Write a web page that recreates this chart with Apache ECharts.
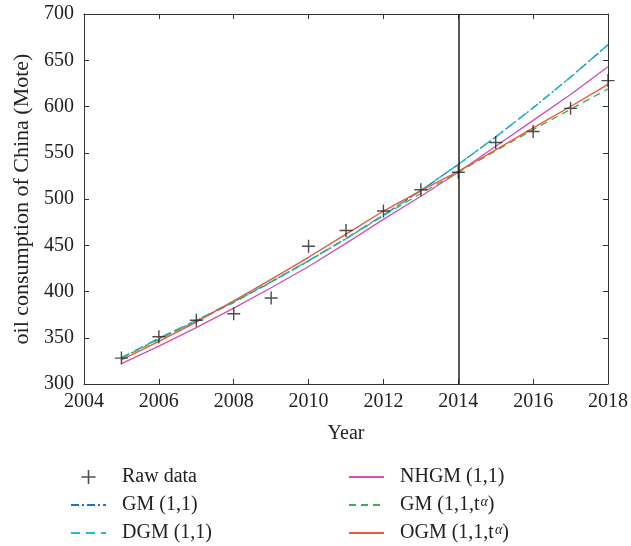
<!DOCTYPE html>
<html>
<head>
<meta charset="utf-8">
<script src="https://cdn.jsdelivr.net/npm/echarts@6/dist/echarts.min.js"></script>
<style>html,body{margin:0;padding:0;background:#fff;}#c{width:631px;height:546px;}</style>
</head>
<body>
<div id="c"></div>
<script>
var years = [2005,2006,2007,2008,2009,2010,2011,2012,2013,2014,2015,2016,2017,2018];
var rawData = [328,351,369,376,393,449,466,487,510,529,561,573,598,628];
var gm11 = [328,349,368.4,388.8,410.3,433.1,457.1,482.4,509.1,537.3,567.1,598.5,631.7,666.7];
var dgm11 = [328.5,349.6,368.9,389.2,410.7,433.4,457.3,482.6,509.3,537.4,567.2,598.6,631.8,666.8];
var nhgm11 = [322,341,361,382,404,427,452,478,503,529,557,585,613,643];
var gm11ta = [328,348,368,388,410,433,457,482,506,529,552,575,597,619];
var ogm11ta = [326,346,367,390,413,437,462,487,509,530,553,577,600,624];
var xTicks = [2004,2006,2008,2010,2012,2014,2016,2018];
var yTicks = [300,350,400,450,500,550,600,650,700];
var splitYear = 2014;

var FONT = 'Liberation Serif';
var FS = 20;
function pairs(v){ return years.map(function(y,i){ return [y, v[i]]; }); }
var names = {
  'GM (1,1,tα)': '{g|}{n|GM (1,1,t}{s|α}{n|)}',
  'OGM (1,1,tα)': '{g|}{n|OGM (1,1,t}{s|α}{n|)}'
};
var rich = {
  g: {width: 11, lineHeight: 20},
  n: {fontFamily: FONT, fontSize: FS, color: '#222', lineHeight: 20, verticalAlign: 'bottom'},
  s: {fontFamily: FONT, fontSize: 14, fontStyle: 'italic', color: '#222', lineHeight: 20, verticalAlign: 'top', padding: [0,0,6,1]}
};
function fmt(name){ return names[name] || ('{g|}{n|' + name + '}'); }
function legendItem(name, isLine){
  return isLine ? {name: name, itemStyle: {opacity: 0}} : {name: name};
}

var chart = echarts.init(document.getElementById('c'), null, {renderer: 'canvas'});
var axisLine = {show: true, lineStyle: {color: '#333', width: 1}};
chart.setOption({
  animation: false,
  backgroundColor: '#fff',
  grid: {left: 84, right: 19, top: 14, bottom: 162, containLabel: false},
  xAxis: [{
    type: 'value', min: 2004, max: 2018, interval: 2,
    axisLine: axisLine, axisTick: {inside: true, length: 5, lineStyle: {color: '#333'}},
    axisLabel: {fontFamily: FONT, fontSize: FS, color: '#222', margin: 8, formatter: function(v){ return xTicks.indexOf(v) >= 0 ? String(v) : ''; }},
    splitLine: {show: false},
    name: 'Year', nameLocation: 'middle', nameGap: 40,
    nameTextStyle: {fontFamily: FONT, fontSize: FS, color: '#222'}
  },{
    type: 'value', min: 2004, max: 2018, interval: 2, position: 'top',
    axisLine: axisLine, axisTick: {inside: true, length: 5, lineStyle: {color: '#333'}},
    axisLabel: {show: false}, splitLine: {show: false}
  }],
  yAxis: [{
    type: 'value', min: 300, max: 700, interval: 50,
    axisLine: axisLine, axisTick: {show: true, inside: true, length: 5, lineStyle: {color: '#333'}},
    axisLabel: {fontFamily: FONT, fontSize: FS, color: '#222', margin: 10, formatter: function(v){ return yTicks.indexOf(v) >= 0 ? String(v) : ''; }},
    splitLine: {show: false},
    name: 'oil consumption of China (Mote)', nameLocation: 'middle', nameGap: 48,
    nameTextStyle: {fontFamily: FONT, fontSize: 22, color: '#222'}
  },{
    type: 'value', min: 300, max: 700, interval: 50, position: 'right',
    axisLine: axisLine, axisTick: {show: true, inside: true, length: 5, lineStyle: {color: '#333'}},
    axisLabel: {show: false}, splitLine: {show: false}
  }],
  legend: [{
    data: [legendItem('Raw data', false), legendItem('GM (1,1)', true), legendItem('DGM (1,1)', true)],
    orient: 'vertical', left: 70, top: 467, itemGap: 8, itemWidth: 35, itemHeight: 14, padding: 0,
    formatter: fmt, textStyle: {rich: rich}, selectedMode: false
  },{
    data: [legendItem('NHGM (1,1)', true), legendItem('GM (1,1,tα)', true), legendItem('OGM (1,1,tα)', true)],
    orient: 'vertical', left: 348, top: 467, itemGap: 8, itemWidth: 35, itemHeight: 14, padding: 0,
    formatter: fmt, textStyle: {rich: rich}, selectedMode: false
  }],
  series: [
    {name: 'Raw data', type: 'scatter', data: pairs(rawData), symbol: 'path://M4.45,0h1.1v10h-1.1z M0,4.45h10v1.1h-10z', symbolSize: 13,
      itemStyle: {color: '#222'}, z: 10,
      markLine: {silent: true, symbol: 'none', label: {show: false}, lineStyle: {color: '#222', width: 1.5, type: 'solid'}, data: [{xAxis: splitYear}]}},
    {name: 'GM (1,1)', type: 'line', data: pairs(gm11), showSymbol: false,
      lineStyle: {color: '#1f77c4', width: 1.3, type: [8,3,2,3]}, itemStyle: {color: '#1f77c4'}},
    {name: 'DGM (1,1)', type: 'line', data: pairs(dgm11), showSymbol: false,
      lineStyle: {color: '#22bcc6', width: 1.5, type: [9,6]}, itemStyle: {color: '#22bcc6'}},
    {name: 'NHGM (1,1)', type: 'line', data: pairs(nhgm11), showSymbol: false,
      lineStyle: {color: '#cf4fb6', width: 1.3}, itemStyle: {color: '#cf4fb6'}},
    {name: 'GM (1,1,tα)', type: 'line', data: pairs(gm11ta), showSymbol: false,
      lineStyle: {color: '#43ad4f', width: 1.3, type: [7,5]}, itemStyle: {color: '#43ad4f'}},
    {name: 'OGM (1,1,tα)', type: 'line', data: pairs(ogm11ta), showSymbol: false,
      lineStyle: {color: '#f0553b', width: 1.4}, itemStyle: {color: '#f0553b'}}
  ]
});
</script>
</body>
</html>
